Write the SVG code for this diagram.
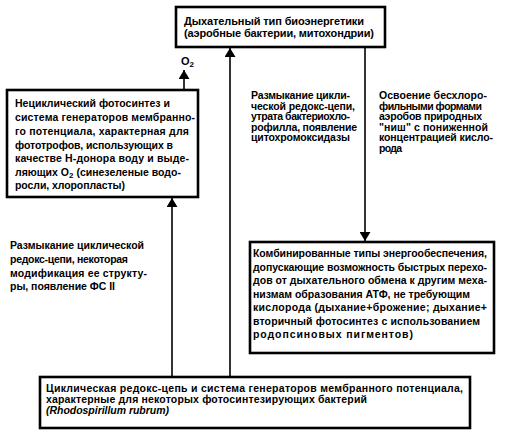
<svg xmlns="http://www.w3.org/2000/svg" width="507" height="437" viewBox="0 0 507 437">
<style>
.box{fill:#fff;stroke:#000;stroke-width:2.6}
.t{font-family:"Liberation Sans",Arial,sans-serif;font-weight:bold;font-size:10.5px;fill:#000}
.tt{font-size:11px}
.i{font-style:italic}
.ln{stroke:#000;stroke-width:1.6;fill:none}
</style>
<defs>
<marker id="ah" viewBox="0 0 9 11" refX="9" refY="5.5" markerWidth="9" markerHeight="11" markerUnits="userSpaceOnUse" orient="auto">
<path d="M0,0 L9,5.5 L0,11 z" fill="#000"/>
</marker>
</defs>
<rect width="507" height="437" fill="#fff"/>
<g id="connectors">
<line class="ln" x1="230" y1="377" x2="230" y2="48" marker-end="url(#ah)"/>
<line class="ln" x1="172" y1="377" x2="172" y2="198" marker-end="url(#ah)"/>
<line class="ln" x1="184" y1="90" x2="184" y2="70" marker-end="url(#ah)"/>
<line class="ln" x1="365" y1="48" x2="365" y2="241" marker-end="url(#ah)"/>
</g>
<g id="node-top">
<rect class="box" x="176" y="7" width="209" height="40"/>
<text class="t tt" x="184" y="25" textLength="180">Дыхательный тип биоэнергетики</text>
<text class="t tt" x="184" y="37" textLength="190">(аэробные бактерии, митохондрии)</text>
</g>
<g id="label-o2">
<text class="t tt" x="181" y="65">O<tspan font-size="8" dy="2">2</tspan></text>
</g>
<g id="node-left">
<rect class="box" x="7" y="90" width="191" height="107"/>
<text class="t" x="15" y="107" textLength="155">Нециклический фотосинтез и</text>
<text class="t" x="15" y="121" textLength="180">система генераторов мембранно-</text>
<text class="t" x="15" y="135" textLength="174">го потенциала, характерная для</text>
<text class="t" x="15" y="149" textLength="158">фототрофов, использующих в</text>
<text class="t" x="15" y="162" textLength="174">качестве Н-донора воду и выде-</text>
<text class="t" x="15" y="176">ляющих O<tspan font-size="8" dy="2">2</tspan><tspan dy="-2"> (синезеленые водо-</tspan></text>
<text class="t" x="15" y="189" textLength="110">росли, хлоропласты)</text>
</g>
<g id="label-middle">
<text class="t" x="251" y="99" textLength="99">Размыкание цикли-</text>
<text class="t" x="251" y="109.5" textLength="104">ческой редокс-цепи,</text>
<text class="t" x="251" y="120" textLength="99">утрата бактериохло-</text>
<text class="t" x="251" y="130.5" textLength="106">рофилла, появление</text>
<text class="t" x="251" y="141" textLength="99">цитохромоксидазы</text>
</g>
<g id="label-right">
<text class="t" x="379" y="99" textLength="108">Освоение бесхлоро-</text>
<text class="t" x="379" y="109.5" textLength="103">фильными формами</text>
<text class="t" x="379" y="120" textLength="103">аэробов природных</text>
<text class="t" x="379" y="130.5" textLength="109">"ниш" с пониженной</text>
<text class="t" x="379" y="141" textLength="114">концентрацией кисло-</text>
<text class="t" x="379" y="151.5" textLength="23">рода</text>
</g>
<g id="label-left-lower">
<text class="t" x="10" y="249" textLength="134">Размыкание циклической</text>
<text class="t" x="10" y="263" textLength="118">редокс-цепи, некоторая</text>
<text class="t" x="10" y="277" textLength="137">модификация ее структу-</text>
<text class="t" x="10" y="290" textLength="105">ры, появление ФС II</text>
</g>
<g id="node-combined">
<rect class="box" x="250" y="242" width="244" height="111"/>
<text class="t" x="253" y="257" textLength="234">Комбинированные типы энергообеспечения,</text>
<text class="t" x="253" y="270.5" textLength="234">допускающие возможность быстрых перехо-</text>
<text class="t" x="253" y="284" textLength="234">дов от дыхательного обмена к другим меха-</text>
<text class="t" x="253" y="297.5" textLength="217">низмам образования АТФ, не требующим</text>
<text class="t" x="253" y="311" textLength="234">кислорода (дыхание+брожение; дыхание+</text>
<text class="t" x="253" y="324.5" textLength="227">вторичный фотосинтез с использованием</text>
<text class="t" x="253" y="338" textLength="160">родопсиновых пигментов)</text>
</g>
<g id="node-bottom">
<rect class="box" x="40" y="377" width="430" height="51"/>
<text class="t" x="46" y="392" textLength="417">Циклическая редокс-цепь и система генераторов мембранного потенциала,</text>
<text class="t" x="46" y="403" textLength="321">характерные для некоторых фотосинтезирующих бактерий</text>
<text class="t i" x="46" y="414" textLength="123">(Rhodospirillum rubrum)</text>
</g>
</svg>
